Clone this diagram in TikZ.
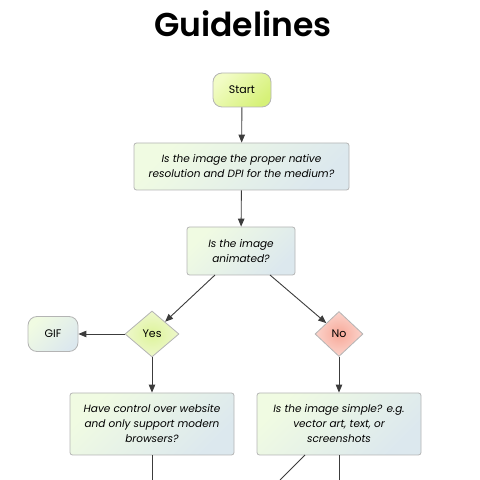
\documentclass[tikz,border=0pt]{standalone}
\usepackage{fontspec}
\setmainfont{Poppins}
\newfontfamily\titlefont{Poppins}[UprightFont=* SemiBold]
\usetikzlibrary{shapes.geometric,arrows.meta,calc}
\definecolor{bordergray}{HTML}{B4B4B4}
\definecolor{linegray}{HTML}{3C3C3C}
\definecolor{boxA}{HTML}{F0FBE2}
\definecolor{boxB}{HTML}{DCE8EE}
\definecolor{startA}{HTML}{F2FCC6}
\definecolor{startB}{HTML}{D6F178}
\definecolor{yesIn}{HTML}{DDF39A}
\definecolor{yesOut}{HTML}{EEF8CC}
\definecolor{noIn}{HTML}{F7A898}
\definecolor{noOut}{HTML}{FBD4CC}
\tikzset{
  qbox/.style={draw=bordergray, line width=0.8pt, rounded corners=2.5pt,
    top color=boxA, bottom color=boxB, shading angle=45,
    align=center, font=\fontsize{10.5}{15}\selectfont\itshape, inner sep=0pt},
  termbox/.style={draw=bordergray, line width=0.8pt, rounded corners=9pt,
    align=center, font=\fontsize{11}{13}\selectfont, inner sep=0pt},
  dia/.style={diamond, draw=bordergray, line width=0.8pt, inner sep=0pt,
    font=\fontsize{11}{13}\selectfont},
  conn/.style={draw=linegray, line width=0.9pt},
  arr/.style={conn, -{Triangle[length=8pt,width=6.5pt]}},
}
\begin{document}
\begin{tikzpicture}[x=1pt,y=1pt]
\useasboundingbox (0,0) rectangle (480,480);
\node[font=\fontsize{33}{40}\titlefont, anchor=base] (title) at (243,443) {Guidelines};
\node[termbox, top color=startA, bottom color=startB, shading angle=45,
  minimum width=58pt, minimum height=34pt] (start) at (242,390) {Start};
\node[qbox, minimum width=215pt, minimum height=47pt] (q1) at (241.5,313.5)
  {Is the image the proper native\\resolution and DPI for the medium?};
\node[qbox, minimum width=108pt, minimum height=48pt] (q2) at (241,229)
  {Is the image\\animated?};
\node[dia, inner color=yesIn, outer color=yesOut, minimum width=54pt, minimum height=46pt] (yes) at (152,146) {Yes};
\node[dia, inner color=noIn, outer color=noOut, minimum width=48pt, minimum height=45pt] (no) at (339,146) {No};
\node[termbox, top color=boxA, bottom color=boxB, shading angle=45,
  minimum width=50pt, minimum height=35pt] (gif) at (53,146) {GIF};
\node[qbox, minimum width=164pt, minimum height=62pt] (q3) at (152,56)
  {Have control over website\\and only support modern\\browsers?};
\node[qbox, minimum width=164pt, minimum height=62pt] (q4) at (339,56)
  {Is the image simple? e.g.\\vector art, text, or\\screenshots};
\coordinate (b1) at (152,0);
\coordinate (b2) at (339,0);
\coordinate (b3s) at (305,25);
\coordinate (b3) at (280,0);
\coordinate (q2l) at (215,205);
\coordinate (q2r) at (270,205);
\draw[arr] (start) -- (q1);
\draw[arr] (q1) -- (q2);
\draw[arr] (q2l) -- (yes);
\draw[arr] (q2r) -- (no);
\draw[arr] (yes) -- (gif);
\draw[arr] (yes) -- (q3);
\draw[arr] (no) -- (q4);
\draw[conn] (q3) -- (b1);
\draw[conn] (q4) -- (b2);
\draw[conn] (b3s) -- (b3);
\end{tikzpicture}
\end{document}
